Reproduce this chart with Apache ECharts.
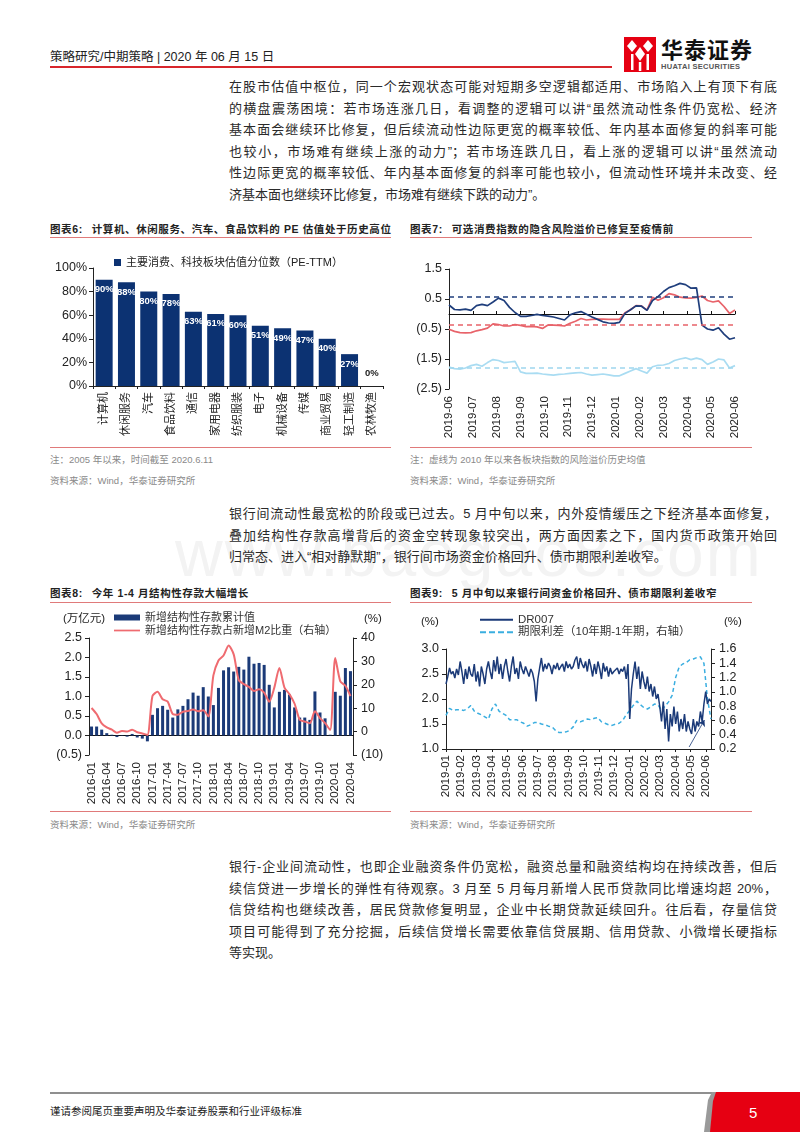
<!DOCTYPE html>
<html><head><meta charset="utf-8">
<script src="https://cdn.jsdelivr.net/npm/echarts@6/dist/echarts.min.js"></script>
<style>
html,body{margin:0;padding:0;background:#fff}
body{width:800px;height:1132px;position:relative;overflow:hidden;font-family:'Liberation Sans','Noto Sans CJK SC',sans-serif;color:#222}
.a{position:absolute;white-space:nowrap}
.para{position:absolute;left:229px;width:548px;font-size:13px;line-height:21.6px;color:#2a2a2a}
.para .j{text-align:justify;text-align-last:justify}
.ttl{position:absolute;font-size:10.5px;line-height:14px;font-weight:bold;letter-spacing:0.6px;color:#222;white-space:nowrap}
.rl{position:absolute;height:1px;background:#e07a7a}
.note{position:absolute;font-size:9.5px;line-height:14px;color:#8a8a8a;white-space:nowrap}
.ch{position:absolute}
.unit{position:absolute;font-size:11.5px;line-height:14px;color:#222;white-space:nowrap}
</style></head><body>

<!-- header -->
<div class="a" style="left:50px;top:49px;font-size:12.5px;line-height:16px;color:#222">策略研究/中期策略 | 2020 年 06 月 15 日</div>
<div class="a" style="left:50px;top:66px;width:562px;height:2px;background:#d8262c"></div>
<svg class="a" style="left:624px;top:37px" width="32" height="35" viewBox="0 0 32 35">
  <rect x="0" y="0" width="32" height="35" fill="#e60012"/>
  <polygon points="8,3 13,9 8,15 3,9" fill="#fff"/>
  <polygon points="24,3 29,9 24,15 19,9" fill="#fff"/>
  <polygon points="16,10 21,17 16,24 11,17" fill="#fff"/>
  <rect x="7" y="17" width="2.5" height="16" fill="#fff"/>
  <rect x="22.5" y="17" width="2.5" height="16" fill="#fff"/>
  <rect x="14.8" y="25" width="2.5" height="9" fill="#fff"/>
</svg>
<div class="a" style="left:661px;top:35px;font-size:22px;line-height:26px;font-weight:bold;letter-spacing:1px;color:#111;font-family:'Noto Sans CJK SC'">华泰证券</div>
<div class="a" style="left:661px;top:62px;font-size:7.5px;line-height:9px;font-weight:bold;color:#555;letter-spacing:0.3px">HUATAI SECURITIES</div>

<!-- paragraph 1 -->
<div class="para" style="top:76px">
<div class="j">在股市估值中枢位，同一个宏观状态可能对短期多空逻辑都适用、市场陷入上有顶下有底</div>
<div class="j">的横盘震荡困境：若市场连涨几日，看调整的逻辑可以讲“虽然流动性条件仍宽松、经济</div>
<div class="j">基本面会继续环比修复，但后续流动性边际更宽的概率较低、年内基本面修复的斜率可能</div>
<div class="j">也较小，市场难有继续上涨的动力”；若市场连跌几日，看上涨的逻辑可以讲“虽然流动</div>
<div class="j">性边际更宽的概率较低、年内基本面修复的斜率可能也较小，但流动性环境并未改变、经</div>
<div>济基本面也继续环比修复，市场难有继续下跌的动力”。</div>
</div>

<!-- chart 6 / 7 titles -->
<div class="ttl" style="left:50px;top:222px">图表6:<span style="display:inline-block;width:9px"></span>计算机、休闲服务、汽车、食品饮料的 PE 估值处于历史高位</div>
<div class="rl" style="left:50px;top:237px;width:341px"></div>
<div class="ttl" style="left:410px;top:222px">图表7:<span style="display:inline-block;width:9px"></span>可选消费指数的隐含风险溢价已修复至疫情前</div>
<div class="rl" style="left:410px;top:237px;width:342px"></div>

<div id="c6" class="ch" style="left:40px;top:245px;width:360px;height:205px"></div>
<div id="c7" class="ch" style="left:400px;top:245px;width:390px;height:205px"></div>

<div class="rl" style="left:50px;top:447px;width:341px"></div>
<div class="rl" style="left:410px;top:447px;width:342px"></div>
<div class="note" style="left:50px;top:453px">注：2005 年以来，时间截至 2020.6.11</div>
<div class="note" style="left:50px;top:474px">资料来源：Wind，华泰证券研究所</div>
<div class="note" style="left:410px;top:453px">注：虚线为 2010 年以来各板块指数的风险溢价历史均值</div>
<div class="note" style="left:410px;top:474px">资料来源：Wind，华泰证券研究所</div>

<!-- watermark -->
<div class="a" style="left:175px;top:518px;font-size:66px;line-height:70px;color:#f3f3f3;letter-spacing:2px">www.baogao8.com</div>

<!-- paragraph 2 -->
<div class="para" style="top:503px">
<div class="j">银行间流动性最宽松的阶段或已过去。5 月中旬以来，内外疫情缓压之下经济基本面修复，</div>
<div class="j">叠加结构性存款高增背后的资金空转现象较突出，两方面因素之下，国内货币政策开始回</div>
<div>归常态、进入“相对静默期”，银行间市场资金价格回升、债市期限利差收窄。</div>
</div>

<!-- chart 8 / 9 titles -->
<div class="ttl" style="left:50px;top:586px">图表8:<span style="display:inline-block;width:9px"></span>今年 1-4 月结构性存款大幅增长</div>
<div class="rl" style="left:50px;top:602px;width:341px"></div>
<div class="ttl" style="left:410px;top:586px">图表9:<span style="display:inline-block;width:9px"></span>5 月中旬以来银行间资金价格回升、债市期限利差收窄</div>
<div class="rl" style="left:410px;top:602px;width:342px"></div>

<div id="c8" class="ch" style="left:40px;top:605px;width:360px;height:205px"></div>
<div id="c9" class="ch" style="left:400px;top:605px;width:390px;height:205px"></div>
<div class="unit" style="left:63px;top:611px">(万亿元)</div>
<div class="unit" style="left:364px;top:611px">(%)</div>
<div class="unit" style="left:421px;top:614px">(%)</div>
<div class="unit" style="left:724px;top:614px">(%)</div>

<div class="rl" style="left:50px;top:811px;width:341px"></div>
<div class="rl" style="left:410px;top:811px;width:342px"></div>
<div class="note" style="left:50px;top:818px">资料来源：Wind，华泰证券研究所</div>
<div class="note" style="left:410px;top:818px">资料来源：Wind，华泰证券研究所</div>

<!-- paragraph 3 -->
<div class="para" style="top:856px">
<div class="j">银行-企业间流动性，也即企业融资条件仍宽松，融资总量和融资结构均在持续改善，但后</div>
<div class="j">续信贷进一步增长的弹性有待观察。3 月至 5 月每月新增人民币贷款同比增速均超 20%，</div>
<div class="j">信贷结构也继续改善，居民贷款修复明显，企业中长期贷款延续回升。往后看，存量信贷</div>
<div class="j">项目可能得到了充分挖掘，后续信贷增长需要依靠信贷展期、信用贷款、小微增长硬指标</div>
<div>等实现。</div>
</div>

<!-- footer -->
<div class="a" style="left:50px;top:1092px;width:668px;height:2px;background:#8f8f8f"></div>
<svg class="a" style="left:700px;top:1092px" width="100" height="40" viewBox="0 0 100 40">
  <polygon points="12,0 100,0 100,40 4,40 8,8" fill="#9a9a9a"/>
  <polygon points="16,0 100,0 100,40 10,40 13,9" fill="#e60012"/>
  <text x="49" y="26" fill="#fff" font-size="15" font-family="Liberation Sans">5</text>
</svg>
<div class="a" style="left:50px;top:1104px;font-size:10.5px;line-height:14px;color:#222">谨请参阅尾页重要声明及华泰证券股票和行业评级标准</div>

<script>
const FF = "'Liberation Sans','Noto Sans CJK SC',sans-serif";

// ---------- Chart 6 data ----------
const c6Cats = ['计算机','休闲服务','汽车','食品饮料','通信','家用电器','纺织服装','电子','机械设备','传媒','商业贸易','轻工制造','农林牧渔'];
const c6Vals = [90,88,80,78,63,61,60,51,49,47,40,27,0];
const c6Name = '主要消费、科技板块估值分位数（PE-TTM）';

// ---------- Chart 7 data (weekly, 2019-06 ~ 2020-06) ----------
const c7Months = ['2019-06','2019-07','2019-08','2019-09','2019-10','2019-11','2019-12','2020-01','2020-02','2020-03','2020-04','2020-05','2020-06'];
const c7Names = ['可选消费隐含的风险溢价','必需消费隐含的风险溢价','信息技术隐含的风险溢价'];
const c7Disc = [0.30,0.15,0.14,0.16,0.12,0.28,0.32,0.28,0.40,0.53,0.45,0.22,0.05,-0.08,-0.08,-0.05,-0.01,-0.05,-0.07,-0.10,-0.15,-0.20,-0.03,0.04,0.08,-0.01,-0.10,-0.18,-0.26,-0.30,-0.31,-0.28,0.02,0.14,0.27,0.26,0.12,0.45,0.58,0.75,0.88,0.94,1.02,0.98,0.86,0.87,-0.37,-0.50,-0.54,-0.46,-0.67,-0.84,-0.79];
const c7Stap = [-0.51,-0.58,-0.62,-0.63,-0.62,-0.56,-0.52,-0.47,-0.33,-0.35,-0.40,-0.40,-0.35,-0.38,-0.42,-0.41,-0.43,-0.48,-0.37,-0.37,-0.38,-0.40,-0.31,-0.24,-0.15,-0.20,-0.18,-0.17,-0.17,-0.18,-0.18,-0.18,0.04,0.14,0.28,0.27,0.13,0.56,0.46,0.54,0.68,0.64,0.56,0.54,0.53,0.55,0.60,0.45,0.40,0.44,0.25,0.02,0.13];
const c7Tech = [-1.77,-1.82,-1.84,-1.80,-1.72,-1.68,-1.74,-1.62,-1.52,-1.55,-1.62,-1.60,-1.58,-1.93,-1.98,-1.98,-1.97,-2.00,-2.02,-2.04,-2.01,-2.00,-1.98,-1.96,-1.95,-2.00,-2.04,-2.02,-2.00,-2.03,-2.06,-2.06,-1.98,-1.90,-1.82,-1.90,-1.97,-1.76,-1.71,-1.70,-1.65,-1.55,-1.50,-1.46,-1.52,-1.47,-1.52,-1.68,-1.60,-1.50,-1.53,-1.80,-1.72];
const c7Means = [0.58,-0.37,-1.78];

// ---------- Chart 8 data (monthly 2016-01 ~ 2020-04) ----------
const c8Months = ['2016-01','2016-02','2016-03','2016-04','2016-05','2016-06','2016-07','2016-08','2016-09','2016-10','2016-11','2016-12',
'2017-01','2017-02','2017-03','2017-04','2017-05','2017-06','2017-07','2017-08','2017-09','2017-10','2017-11','2017-12',
'2018-01','2018-02','2018-03','2018-04','2018-05','2018-06','2018-07','2018-08','2018-09','2018-10','2018-11','2018-12',
'2019-01','2019-02','2019-03','2019-04','2019-05','2019-06','2019-07','2019-08','2019-09','2019-10','2019-11','2019-12',
'2020-01','2020-02','2020-03','2020-04'];
const c8Names = ['新增结构性存款累计值','新增结构性存款占新增M2比重（右轴）'];
const c8Bars = [0.23,0.23,0.15,0.06,0.02,-0.04,0.01,-0.03,0.04,-0.05,-0.08,-0.15,
0.53,0.70,0.76,0.66,0.46,0.67,0.76,0.93,1.10,1.02,1.24,1.00,
0.78,1.22,1.67,1.75,1.64,1.76,1.69,2.02,1.84,1.86,1.81,1.30,
0.72,1.12,1.17,1.05,0.72,0.46,0.46,0.40,1.13,0.59,0.44,0.02,
1.12,1.02,1.73,1.65];
const c8Share = [10.1,7.5,3.5,1.8,0.8,-0.5,0.3,0.0,0.8,-0.3,-0.8,-1.4,
15.2,17.0,13.8,12.8,7.5,7.2,8.5,8.8,9.4,8.7,9.1,6.5,
24.0,30.4,32.5,36.8,33.0,22.0,20.3,19.1,17.4,18.1,16.7,12.8,
18.8,27.2,18.8,16.0,11.9,5.1,4.3,3.6,8.7,5.8,3.6,0.7,
31.4,21.5,19.6,15.2];

// ---------- Chart 9 data (2019-01 ~ 2020-06) ----------
const c9Months = ['2019-01','2019-02','2019-03','2019-04','2019-05','2019-06','2019-07','2019-08','2019-09','2019-10','2019-11','2019-12','2020-01','2020-02','2020-03','2020-04','2020-05','2020-06'];
const c9Span = 17.33; // months covered (2019-01-02 ~ 2020-06-12)
const c9Names = ['DR007','期限利差（10年期-1年期，右轴）'];
const c9DR007 = [2.30,2.45,2.62,2.50,2.55,2.42,2.60,2.48,2.75,
2.55,2.30,2.60,2.40,2.65,2.50,2.45,2.70,
2.35,2.55,2.25,2.65,2.50,2.30,2.60,2.75,2.55,
2.40,2.78,2.55,2.85,2.50,2.70,2.40,2.65,2.80,
2.55,2.35,2.65,2.85,2.50,2.62,2.40,2.75,2.60,
2.50,2.65,2.55,2.45,2.60,2.52,2.35,1.95,
2.40,2.62,2.82,2.55,2.70,2.60,2.72,2.65,2.50,
2.68,2.60,2.72,2.58,2.65,2.70,2.55,2.75,2.62,
2.70,2.60,2.65,2.78,2.85,2.60,2.82,2.70,
2.62,2.75,2.55,2.80,2.65,2.45,2.70,2.50,2.75,
2.60,2.40,2.72,2.55,2.65,2.45,2.62,2.50,2.55,
2.58,2.62,2.50,2.60,2.55,2.65,2.40,2.70,1.60,
2.20,2.50,2.75,2.40,2.65,2.20,2.55,2.35,
2.20,2.45,2.15,2.30,2.05,2.25,2.00,2.10,
1.85,1.55,1.95,1.40,1.80,1.15,1.70,1.45,1.85,
1.50,1.75,1.35,1.60,1.40,1.70,1.35,1.55,1.40,
1.30,1.60,1.35,1.55,1.45,1.75,1.55,1.90,2.15,
1.90,2.00,1.95];
const c9Spread = [0.67,0.77,0.74,0.75,0.75,0.74,0.76,0.81,0.73,0.70,
0.68,0.65,0.62,0.76,0.83,0.73,0.70,0.67,0.61,0.61,
0.61,0.58,0.56,0.52,0.54,0.57,0.57,0.55,0.54,0.52,
0.51,0.46,0.43,0.43,0.44,0.46,0.51,0.60,0.58,0.60,
0.62,0.61,0.63,0.64,0.58,0.56,0.54,0.53,0.55,0.56,
0.60,0.68,0.74,0.81,0.87,0.82,0.78,0.76,0.79,0.83,
0.82,0.74,0.80,0.86,0.95,1.20,1.35,1.39,1.41,1.45,
1.46,1.48,1.49,1.40,0.90,0.62];

// ---------- helpers ----------
const paren = (d) => (v) => v < 0 ? '(' + Math.abs(v).toFixed(d) + ')' : v.toFixed(d);
const spread = (arr, span) => arr.map((v, i) => [i * span / (arr.length - 1), v]);
const axisCol = '#222';
const txt = {color:'#222', fontFamily:FF};
const LINE_ICON = 'path://M0,0H30V2H0Z';
const DASH_ICON = 'path://M0,0H6V2H0Z M9,0H15V2H9Z M18,0H24V2H18Z M27,0H33V2H27Z';

// ---------- Chart 6 ----------
echarts.init(document.getElementById('c6')).setOption({
  animation:false,
  textStyle:{fontFamily:FF},
  legend:{data:[c6Name], left:74, top:12, padding:0, icon:'rect', itemWidth:7, itemHeight:7,
    textStyle:{fontSize:11, color:'#222', fontFamily:FF}},
  grid:{left:53, top:23, width:290, height:118},
  xAxis:{type:'category', data:c6Cats,
    axisLine:{lineStyle:{color:axisCol}}, axisTick:{show:true, length:3, lineStyle:{color:axisCol}},
    axisLabel:{rotate:90, interval:0, fontSize:11, margin:6, ...txt}},
  yAxis:{type:'value', min:0, max:100, interval:20,
    axisLine:{show:true, lineStyle:{color:axisCol}}, axisTick:{show:true, length:4, lineStyle:{color:axisCol}},
    splitLine:{show:false}, axisLabel:{formatter:'{value}%', fontSize:12.5, margin:6, ...txt}},
  series:[{type:'bar', name:c6Name, barWidth:17,
    data:c6Vals.map(v => v === 0 ? {value:v, label:{position:'top', color:'#222', distance:8}} : v),
    itemStyle:{color:'#0c3272'},
    label:{show:true, position:'insideTop', distance:5, formatter:'{c}%', color:'#fff', fontSize:9.5, fontWeight:'bold', fontFamily:FF}}]
});

// ---------- Chart 7 ----------
const c7Colors = ['#1f3e7c','#e8636a','#a9dcf2'];
const c7Dash = ['#1f3e7c','#e8636a','#9fd6ee'];
echarts.init(document.getElementById('c7')).setOption({
  animation:false,
  textStyle:{fontFamily:FF},
  legend:{data:c7Names.map(n => ({name:n, icon:LINE_ICON})), orient:'vertical', left:115, top:246, padding:0, itemGap:1, itemWidth:28, itemHeight:11,
    textStyle:{fontSize:11.5, color:'#333', fontFamily:FF}},
  grid:{left:49, top:24, width:286, height:120},
  xAxis:[
    {type:'value', min:0, max:12, interval:1, position:'bottom',
      axisLine:{show:false, onZero:false}, axisTick:{show:false}, splitLine:{show:false},
      axisLabel:{rotate:90, fontSize:11.5, margin:7, formatter:(v) => c7Months[v] || '', ...txt}},
    {type:'value', min:0, max:12, interval:1, position:'bottom',
      axisLine:{show:true, onZero:true, lineStyle:{color:'#111'}}, axisTick:{show:true, inside:true, length:3, lineStyle:{color:'#111'}},
      axisLabel:{show:false}, splitLine:{show:false}}
  ],
  yAxis:{type:'value', min:-2.5, max:1.5, interval:1,
    axisLine:{show:true, lineStyle:{color:axisCol}}, axisTick:{show:true, length:4, lineStyle:{color:axisCol}},
    splitLine:{show:false}, axisLabel:{fontSize:12.5, margin:7, formatter:paren(1), ...txt}},
  series:[c7Disc, c7Stap, c7Tech].map((arr, k) => ({
    type:'line', name:c7Names[k], xAxisIndex:0, symbol:'none',
    data:spread(arr, 12), z: 3 - k,
    lineStyle:{color:c7Colors[k], width:1.7}, itemStyle:{color:c7Colors[k]},
    markLine:{silent:true, symbol:'none', label:{show:false},
      lineStyle:{color:c7Dash[k], type:[5,4], width:1.5},
      data:[{yAxis:c7Means[k]}]}
  }))
});

// ---------- Chart 8 ----------
echarts.init(document.getElementById('c8')).setOption({
  animation:false,
  textStyle:{fontFamily:FF},
  legend:{data:[{name:c8Names[0], icon:'rect'}, {name:c8Names[1], icon:LINE_ICON}], orient:'vertical', left:74, top:7, padding:0, itemGap:2, itemWidth:26, itemHeight:6,
    textStyle:{fontSize:11, color:'#333', fontFamily:FF}},
  grid:{left:49, top:33, width:264, height:117},
  xAxis:[
    {type:'category', data:c8Months, position:'bottom',
      axisLine:{show:false, onZero:false}, axisTick:{show:false},
      axisLabel:{rotate:90, interval:2, fontSize:11.5, margin:7, ...txt}},
    {type:'category', data:c8Months, position:'bottom',
      axisLine:{show:true, onZero:true, lineStyle:{color:'#111'}}, axisTick:{show:false}, axisLabel:{show:false}}
  ],
  yAxis:[
    {type:'value', min:-0.5, max:2.5, interval:0.5,
      axisLine:{show:true, lineStyle:{color:axisCol}}, axisTick:{show:true, length:4, lineStyle:{color:axisCol}},
      splitLine:{show:false}, axisLabel:{fontSize:12.5, margin:7, formatter:paren(1), ...txt}},
    {type:'value', min:-10, max:40, interval:10, position:'right',
      axisLine:{show:true, lineStyle:{color:axisCol}}, axisTick:{show:true, length:4, lineStyle:{color:axisCol}},
      splitLine:{show:false}, axisLabel:{fontSize:12.5, margin:8, formatter:paren(0), ...txt}}
  ],
  series:[
    {type:'bar', name:c8Names[0], xAxisIndex:0, yAxisIndex:0, data:c8Bars, barWidth:3,
      itemStyle:{color:'#1b3a78'}},
    {type:'line', name:c8Names[1], xAxisIndex:0, yAxisIndex:1, data:c8Share, symbol:'none', smooth:0.25,
      lineStyle:{color:'#ef6b70', width:2}, itemStyle:{color:'#ef6b70'}, z:5}
  ]
});

// ---------- Chart 9 ----------
echarts.init(document.getElementById('c9')).setOption({
  animation:false,
  textStyle:{fontFamily:FF},
  legend:{data:[{name:c9Names[0], icon:LINE_ICON}, {name:c9Names[1], icon:DASH_ICON}], orient:'vertical', left:80, top:9, padding:0, itemGap:1, itemWidth:33, itemHeight:11,
    textStyle:{fontSize:11.5, color:'#333', fontFamily:FF}},
  grid:{left:46, top:44, width:265, height:100},
  xAxis:{type:'value', min:0, max:c9Span, interval:1,
    axisLine:{show:true, onZero:false, lineStyle:{color:axisCol}}, axisTick:{show:true, length:3, lineStyle:{color:axisCol}},
    splitLine:{show:false},
    axisLabel:{rotate:90, fontSize:11.5, margin:6, showMaxLabel:false,
      formatter:(v) => Number.isInteger(v) ? (c9Months[v] || '') : '', ...txt}},
  yAxis:[
    {type:'value', min:1, max:3, interval:0.5,
      axisLine:{show:true, lineStyle:{color:axisCol}}, axisTick:{show:true, length:4, lineStyle:{color:axisCol}},
      splitLine:{show:false}, axisLabel:{fontSize:12.5, margin:7, formatter:(v) => v.toFixed(1), ...txt}},
    {type:'value', min:0.2, max:1.6, interval:0.2, position:'right',
      axisLine:{show:true, lineStyle:{color:axisCol}}, axisTick:{show:true, length:4, lineStyle:{color:axisCol}},
      splitLine:{show:false}, axisLabel:{fontSize:12.5, margin:8, formatter:(v) => v.toFixed(1), ...txt}}
  ],
  series:[
    {type:'line', name:c9Names[0], yAxisIndex:0, data:spread(c9DR007, c9Span), symbol:'none',
      lineStyle:{color:'#1b3a78', width:1.5}, itemStyle:{color:'#1b3a78'}, z:4,
      markLine:{silent:true, symbol:['none','arrow'], symbolSize:6, label:{show:false},
        lineStyle:{color:'#1b3a78', type:'solid', width:0.8},
        data:[[{coord:[15.9,1.04]},{coord:[16.9,1.58]}]]}},
    {type:'line', name:c9Names[1], yAxisIndex:1, data:spread(c9Spread, c9Span), symbol:'none',
      lineStyle:{color:'#3aaee0', width:1.5, type:[4,3]}, itemStyle:{color:'#3aaee0'}, z:3,
      markLine:{silent:true, symbol:['none','triangle'], symbolSize:8, label:{show:false},
        lineStyle:{color:'#3aaee0', type:[3,2], width:1},
        data:[[{coord:[16.45,1.73]},{coord:[16.87,1.40]}]]}}
  ]
});
</script>
</body></html>
